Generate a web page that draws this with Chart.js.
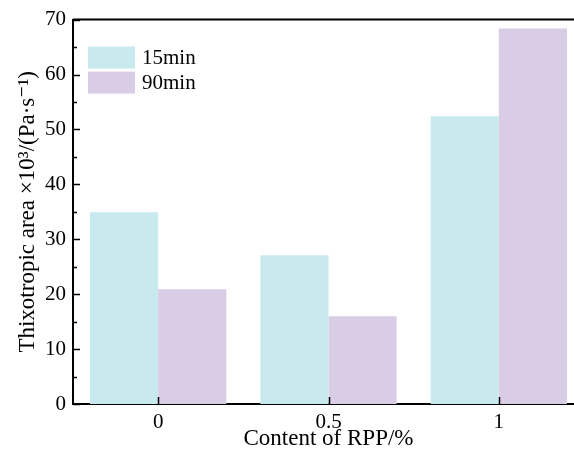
<!DOCTYPE html>
<html>
<head>
<meta charset="utf-8">
<script src="https://cdn.jsdelivr.net/npm/chart.js@4"></script>
<style>
  html, body { margin: 0; padding: 0; background: #fff; overflow: hidden; }
  #wrap { width: 600px; height: 453px; }
</style>
</head>
<body>
<div id="wrap"><canvas id="c" width="600" height="453"></canvas></div>
<script>
// data
const categories = ['0', '0.5', '1'];
const seriesNames = ['15min', '90min'];
const values15 = [34.9, 27.1, 52.4];
const values90 = [20.9, 16.0, 68.4];
const yTicks = [0, 10, 20, 30, 40, 50, 60, 70];

const FONT = "'Liberation Serif', 'DejaVu Serif', serif";
const C15 = '#c8eaee';
const C90 = '#d9cde5';

// ticks inward + top border + legend inside plot
const decor = {
  id: 'decor',
  afterDraw(chart) {
    const { ctx, chartArea: a, scales: { x, y } } = chart;
    ctx.save();
    ctx.strokeStyle = '#000';
    ctx.lineWidth = 1.5;
    ctx.beginPath();
    for (let v = 0; v <= 70; v += 5) {
      const py = Math.round(y.getPixelForValue(v)) + 0.5;
      const len = v % 10 === 0 ? 7 : 4;
      ctx.moveTo(a.left, py);
      ctx.lineTo(a.left + len, py);
    }
    categories.forEach((c, i) => {
      const px = Math.round(x.getPixelForValue(i)) + 0.5;
      ctx.moveTo(px, a.bottom);
      ctx.lineTo(px, a.bottom - 7);
    });
    ctx.stroke();
    // top border
    ctx.lineWidth = 2;
    ctx.beginPath();
    ctx.moveTo(a.left, a.top);
    ctx.lineTo(a.right, a.top);
    ctx.stroke();

    // legend
    const ds = chart.data.datasets;
    ctx.font = '21px ' + FONT;
    ctx.textBaseline = 'middle';
    ds.forEach((d, i) => {
      const bx = a.left + 15, by = a.top + 27 + i * 25;
      ctx.fillStyle = d.backgroundColor;
      ctx.fillRect(bx, by, 47, 22);
      ctx.fillStyle = '#000';
      ctx.fillText(d.label, bx + 54, by + 12);
    });
    ctx.restore();
  }
};

new Chart(document.getElementById('c'), {
  type: 'bar',
  data: {
    labels: categories,
    datasets: [
      { label: seriesNames[0], data: values15, backgroundColor: C15 },
      { label: seriesNames[1], data: values90, backgroundColor: C90 }
    ]
  },
  options: {
    responsive: false,
    animation: false,
    devicePixelRatio: 1,
    categoryPercentage: 0.8,
    barPercentage: 1.0,
    layout: { padding: { top: 19, right: 16, left: 0, bottom: 0 } },
    plugins: { legend: { display: false }, tooltip: { enabled: false } },
    scales: {
      x: {
        grid: { display: false, drawTicks: false },
        border: { display: true, color: '#000', width: 2 },
        ticks: { color: '#000', font: { family: FONT, size: 21 }, padding: 6 },
        title: {
          display: true, text: 'Content of RPP/%', color: '#000',
          font: { family: FONT, size: 23 }, padding: { top: 0, bottom: 0 }
        },
        afterFit(s) { s.height = 49; }
      },
      y: {
        min: 0, max: 70,
        afterBuildTicks(s) { s.ticks = yTicks.map(v => ({ value: v })); },
        grid: { display: false, drawTicks: false },
        border: { display: true, color: '#000', width: 2 },
        ticks: { color: '#000', font: { family: FONT, size: 21 }, padding: 7 },
        title: {
          display: true, text: 'Thixotropic area ×10³/(Pa·s⁻¹)', color: '#000',
          font: { family: FONT, size: 23 }, padding: { top: 14, bottom: 0 }
        },
        afterFit(s) { s.width = 73; }
      }
    }
  },
  plugins: [decor]
});
</script>
</body>
</html>
